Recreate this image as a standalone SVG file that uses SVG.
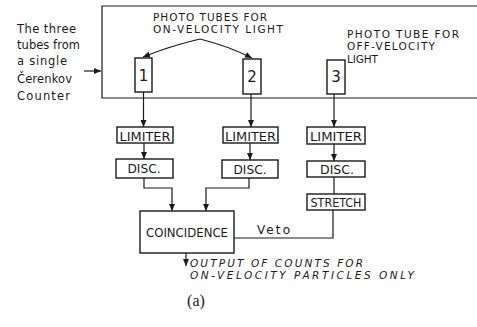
<svg xmlns="http://www.w3.org/2000/svg" width="477" height="327" viewBox="0 0 477 327">
<defs>
<marker id="ah" markerWidth="7" markerHeight="6" refX="7" refY="3" orient="auto" markerUnits="userSpaceOnUse"><path d="M0,0 L7,3 L0,6 z" fill="#1a1a1a"/></marker>
<style>
.ln{fill:none;stroke:#1a1a1a;stroke-width:1.2}
.bx{fill:#fff;stroke:#1a1a1a;stroke-width:1.4}
.t{font-family:"DejaVu Sans","Liberation Sans",Arial,sans-serif;fill:#1a1a1a}
.it{font-family:"DejaVu Sans","Liberation Sans",Arial,sans-serif;font-style:italic;fill:#1a1a1a}
.bt{font-family:"DejaVu Sans","Liberation Sans",Arial,sans-serif;fill:#1a1a1a;text-anchor:middle}
</style>
</defs>
<rect width="477" height="327" fill="#fff"/>
<g id="frame">
<path class="ln" d="M477,6 L102,6 L102,98 L477,98"/>
</g>
<g id="labels">
<text class="t" font-size="11.5" x="17" y="33" textLength="59" lengthAdjust="spacing">The three</text>
<text class="t" font-size="11.5" x="17" y="49" textLength="63" lengthAdjust="spacing">tubes from</text>
<text class="t" font-size="11.5" x="17" y="65" textLength="50" lengthAdjust="spacing">a single</text>
<text class="t" font-size="11.5" x="17" y="83" textLength="55" lengthAdjust="spacing">Čerenkov</text>
<text class="t" font-size="11.5" x="17" y="100" textLength="53" lengthAdjust="spacing">Counter</text>
<text class="t" font-size="10.5" x="153" y="21" textLength="114" lengthAdjust="spacing">PHOTO TUBES FOR</text>
<text class="t" font-size="10.5" x="153" y="33" textLength="130" lengthAdjust="spacing">ON-VELOCITY LIGHT</text>
<text class="t" font-size="10.5" x="347" y="38" textLength="112" lengthAdjust="spacing">PHOTO TUBE FOR</text>
<text class="t" font-size="10.5" x="347" y="50" textLength="88" lengthAdjust="spacing">OFF-VELOCITY</text>
<text class="t" font-size="10.5" x="347" y="63" textLength="31" lengthAdjust="spacing">LIGHT</text>
<text class="t" font-size="12" x="257" y="234" textLength="33" lengthAdjust="spacing">Veto</text>
<text class="it" font-size="10.5" x="190" y="267" textLength="173" lengthAdjust="spacing">OUTPUT OF COUNTS FOR</text>
<text class="it" font-size="10.5" x="190" y="279" textLength="224" lengthAdjust="spacing">ON-VELOCITY PARTICLES ONLY</text>
<text font-family="'Liberation Serif','Times New Roman',serif" font-size="16" x="196" y="306" text-anchor="middle" fill="#1a1a1a">(a)</text>
</g>
<g id="tube1"><rect class="bx" x="135" y="58" width="17" height="34"/><text class="bt" font-size="15" x="143.5" y="81">1</text></g>
<g id="tube2"><rect class="bx" x="243" y="59" width="18" height="35"/><text class="bt" font-size="15" x="252" y="82">2</text></g>
<g id="tube3"><rect class="bx" x="327" y="60" width="18" height="34"/><text class="bt" font-size="15" x="336" y="82">3</text></g>
<g id="limiter1"><rect class="bx" x="117" y="127" width="56" height="16"/><text class="bt" font-size="12.5" x="145" y="140.5" textLength="51" lengthAdjust="spacingAndGlyphs">LIMITER</text></g>
<g id="limiter2"><rect class="bx" x="223" y="127" width="55" height="16"/><text class="bt" font-size="12.5" x="250.5" y="140.5" textLength="51" lengthAdjust="spacingAndGlyphs">LIMITER</text></g>
<g id="limiter3"><rect class="bx" x="307" y="127" width="58" height="17"/><text class="bt" font-size="12.5" x="336" y="141" textLength="52" lengthAdjust="spacingAndGlyphs">LIMITER</text></g>
<g id="disc1"><rect class="bx" x="116" y="159" width="57" height="19"/><text class="bt" font-size="12" x="144" y="173" textLength="33" lengthAdjust="spacingAndGlyphs">DISC.</text></g>
<g id="disc2"><rect class="bx" x="222" y="160" width="56" height="18"/><text class="bt" font-size="12" x="250" y="173.5" textLength="33" lengthAdjust="spacingAndGlyphs">DISC.</text></g>
<g id="disc3"><rect class="bx" x="307" y="161" width="58" height="16"/><text class="bt" font-size="12" x="337" y="174" textLength="34" lengthAdjust="spacingAndGlyphs">DISC.</text></g>
<g id="stretch"><rect class="bx" x="307" y="194" width="58" height="16"/><text class="bt" font-size="12" x="336" y="206.5" textLength="51" lengthAdjust="spacingAndGlyphs">STRETCH</text></g>
<g id="coincidence"><rect class="bx" x="140" y="211" width="94" height="42"/><text class="bt" font-size="11.5" x="187" y="237" textLength="82" lengthAdjust="spacingAndGlyphs">COINCIDENCE</text></g>
<g id="connectors">
<path class="ln" d="M84,71 L101,71" marker-end="url(#ah)"/>
<path class="ln" d="M200,39 Q170,46 143,57" marker-end="url(#ah)"/>
<path class="ln" d="M200,39 Q228,46 252,58" marker-end="url(#ah)"/>
<path class="ln" d="M143.5,92 L143.5,127" marker-end="url(#ah)"/>
<path class="ln" d="M251,94 L251,127" marker-end="url(#ah)"/>
<path class="ln" d="M334,94 L334,127" marker-end="url(#ah)"/>
<path class="ln" d="M144,143 L144,159" marker-end="url(#ah)"/>
<path class="ln" d="M250,143 L250,160" marker-end="url(#ah)"/>
<path class="ln" d="M334,144 L334,161" marker-end="url(#ah)"/>
<path class="ln" d="M144,178 L144,188 L172,188 L172,211" marker-end="url(#ah)"/>
<path class="ln" d="M249,178 L249,188 L206,188 L206,211" marker-end="url(#ah)"/>
<path class="ln" d="M334,177 L334,194"/>
<path class="ln" d="M333,210 L333,238 L234,238"/>
<path class="ln" d="M186,253 L186,266" marker-end="url(#ah)"/>
</g>
</svg>
